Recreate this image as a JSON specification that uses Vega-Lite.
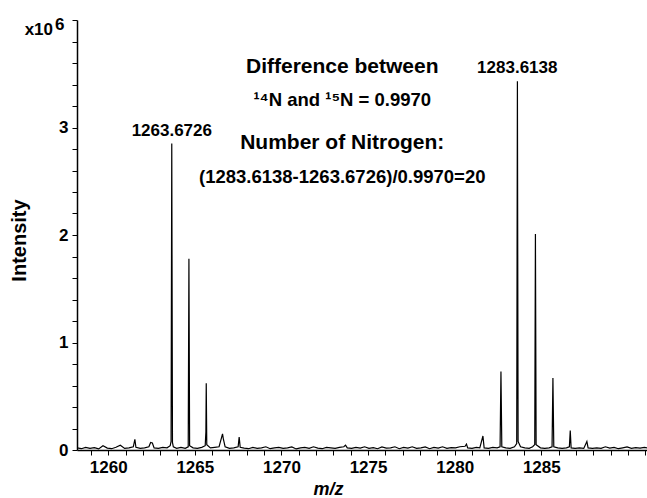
{
  "$schema": "https://vega.github.io/schema/vega-lite/v6.json",
  "width": 570,
  "height": 430,
  "autosize": {"type": "none"},
  "padding": {"left": 77, "top": 20, "right": 0, "bottom": 48},
  "background": "white",
  "config": {
    "font": "Liberation Sans",
    "view": {"stroke": null},
    "axis": {
      "grid": false,
      "domainColor": "black",
      "domainWidth": 1.5,
      "tickColor": "black",
      "tickWidth": 1,
      "tickSize": 5,
      "tickCount": 200,
      "labelColor": "black",
      "labelFont": "Liberation Sans",
      "labelFontWeight": "bold",
      "labelFontSize": 17,
      "labelOverlap": false,
      "labelFlush": false,
      "titleColor": "black",
      "titleFont": "Liberation Sans",
      "titleFontWeight": "bold"
    }
  },
  "datasets": {
    "spectrum": [
      {"mz": 1258.2, "intensity": 0.02}, {"mz": 1258.45, "intensity": 0.012}, {"mz": 1258.7, "intensity": 0.025}, {"mz": 1258.95, "intensity": 0.015},
      {"mz": 1259.2, "intensity": 0.022}, {"mz": 1259.45, "intensity": 0.01}, {"mz": 1259.7, "intensity": 0.04}, {"mz": 1259.95, "intensity": 0.018},
      {"mz": 1260.2, "intensity": 0.012}, {"mz": 1260.45, "intensity": 0.025}, {"mz": 1260.7, "intensity": 0.045}, {"mz": 1260.95, "intensity": 0.015},
      {"mz": 1261.2, "intensity": 0.02}, {"mz": 1261.45, "intensity": 0.03}, {"mz": 1261.54, "intensity": 0.1}, {"mz": 1261.6, "intensity": 0.025},
      {"mz": 1261.85, "intensity": 0.015}, {"mz": 1262.1, "intensity": 0.02}, {"mz": 1262.35, "intensity": 0.03}, {"mz": 1262.45, "intensity": 0.07},
      {"mz": 1262.55, "intensity": 0.065}, {"mz": 1262.65, "intensity": 0.02}, {"mz": 1262.9, "intensity": 0.015}, {"mz": 1263.15, "intensity": 0.025},
      {"mz": 1263.4, "intensity": 0.02}, {"mz": 1263.58, "intensity": 0.04}, {"mz": 1263.63, "intensity": 0.08}, {"mz": 1263.67, "intensity": 2.85},
      {"mz": 1263.71, "intensity": 0.07}, {"mz": 1263.76, "intensity": 0.03}, {"mz": 1263.95, "intensity": 0.015}, {"mz": 1264.2, "intensity": 0.025},
      {"mz": 1264.45, "intensity": 0.015}, {"mz": 1264.62, "intensity": 0.03}, {"mz": 1264.66, "intensity": 1.78}, {"mz": 1264.7, "intensity": 0.04},
      {"mz": 1264.9, "intensity": 0.02}, {"mz": 1265.15, "intensity": 0.015}, {"mz": 1265.4, "intensity": 0.025}, {"mz": 1265.6, "intensity": 0.04},
      {"mz": 1265.64, "intensity": 0.17}, {"mz": 1265.66, "intensity": 0.62}, {"mz": 1265.69, "intensity": 0.05}, {"mz": 1265.9, "intensity": 0.02},
      {"mz": 1266.15, "intensity": 0.025}, {"mz": 1266.4, "intensity": 0.03}, {"mz": 1266.55, "intensity": 0.12}, {"mz": 1266.6, "intensity": 0.15},
      {"mz": 1266.65, "intensity": 0.1}, {"mz": 1266.75, "intensity": 0.03}, {"mz": 1267.0, "intensity": 0.015}, {"mz": 1267.25, "intensity": 0.02},
      {"mz": 1267.5, "intensity": 0.03}, {"mz": 1267.56, "intensity": 0.12}, {"mz": 1267.62, "intensity": 0.025}, {"mz": 1267.85, "intensity": 0.018},
      {"mz": 1268.1, "intensity": 0.012}, {"mz": 1268.35, "intensity": 0.025}, {"mz": 1268.6, "intensity": 0.015}, {"mz": 1268.85, "intensity": 0.02},
      {"mz": 1269.1, "intensity": 0.03}, {"mz": 1269.35, "intensity": 0.012}, {"mz": 1269.6, "intensity": 0.02}, {"mz": 1269.85, "intensity": 0.025},
      {"mz": 1270.1, "intensity": 0.015}, {"mz": 1270.35, "intensity": 0.02}, {"mz": 1270.6, "intensity": 0.028}, {"mz": 1270.85, "intensity": 0.01},
      {"mz": 1271.1, "intensity": 0.02}, {"mz": 1271.35, "intensity": 0.025}, {"mz": 1271.6, "intensity": 0.015}, {"mz": 1271.85, "intensity": 0.03},
      {"mz": 1272.1, "intensity": 0.018}, {"mz": 1272.35, "intensity": 0.012}, {"mz": 1272.6, "intensity": 0.025}, {"mz": 1272.85, "intensity": 0.02},
      {"mz": 1273.1, "intensity": 0.015}, {"mz": 1273.35, "intensity": 0.025}, {"mz": 1273.6, "intensity": 0.03}, {"mz": 1273.7, "intensity": 0.045},
      {"mz": 1273.8, "intensity": 0.02}, {"mz": 1274.05, "intensity": 0.015}, {"mz": 1274.3, "intensity": 0.025}, {"mz": 1274.55, "intensity": 0.018},
      {"mz": 1274.8, "intensity": 0.03}, {"mz": 1275.05, "intensity": 0.015}, {"mz": 1275.3, "intensity": 0.022}, {"mz": 1275.55, "intensity": 0.012},
      {"mz": 1275.8, "intensity": 0.028}, {"mz": 1276.05, "intensity": 0.018}, {"mz": 1276.3, "intensity": 0.02}, {"mz": 1276.55, "intensity": 0.03},
      {"mz": 1276.8, "intensity": 0.012}, {"mz": 1277.05, "intensity": 0.025}, {"mz": 1277.3, "intensity": 0.018}, {"mz": 1277.55, "intensity": 0.03},
      {"mz": 1277.8, "intensity": 0.015}, {"mz": 1278.05, "intensity": 0.02}, {"mz": 1278.3, "intensity": 0.028}, {"mz": 1278.55, "intensity": 0.012},
      {"mz": 1278.8, "intensity": 0.025}, {"mz": 1279.05, "intensity": 0.018}, {"mz": 1279.3, "intensity": 0.03}, {"mz": 1279.55, "intensity": 0.015},
      {"mz": 1279.8, "intensity": 0.022}, {"mz": 1280.05, "intensity": 0.02}, {"mz": 1280.3, "intensity": 0.03}, {"mz": 1280.6, "intensity": 0.035},
      {"mz": 1280.68, "intensity": 0.055}, {"mz": 1280.75, "intensity": 0.02}, {"mz": 1281.0, "intensity": 0.015}, {"mz": 1281.25, "intensity": 0.025},
      {"mz": 1281.45, "intensity": 0.02}, {"mz": 1281.63, "intensity": 0.13}, {"mz": 1281.7, "intensity": 0.02}, {"mz": 1281.95, "intensity": 0.015},
      {"mz": 1282.2, "intensity": 0.025}, {"mz": 1282.45, "intensity": 0.02}, {"mz": 1282.62, "intensity": 0.03}, {"mz": 1282.67, "intensity": 0.73},
      {"mz": 1282.72, "intensity": 0.03}, {"mz": 1282.95, "intensity": 0.02}, {"mz": 1283.2, "intensity": 0.015}, {"mz": 1283.45, "intensity": 0.03},
      {"mz": 1283.58, "intensity": 0.06}, {"mz": 1283.62, "intensity": 3.43}, {"mz": 1283.66, "intensity": 0.08}, {"mz": 1283.8, "intensity": 0.03},
      {"mz": 1284.05, "intensity": 0.02}, {"mz": 1284.3, "intensity": 0.015}, {"mz": 1284.5, "intensity": 0.03}, {"mz": 1284.62, "intensity": 0.05},
      {"mz": 1284.66, "intensity": 2.01}, {"mz": 1284.7, "intensity": 0.05}, {"mz": 1284.95, "intensity": 0.02}, {"mz": 1285.2, "intensity": 0.015},
      {"mz": 1285.45, "intensity": 0.02}, {"mz": 1285.62, "intensity": 0.03}, {"mz": 1285.67, "intensity": 0.67}, {"mz": 1285.72, "intensity": 0.03},
      {"mz": 1285.95, "intensity": 0.02}, {"mz": 1286.2, "intensity": 0.015}, {"mz": 1286.45, "intensity": 0.02}, {"mz": 1286.62, "intensity": 0.03},
      {"mz": 1286.67, "intensity": 0.18}, {"mz": 1286.72, "intensity": 0.02}, {"mz": 1286.95, "intensity": 0.015}, {"mz": 1287.2, "intensity": 0.02},
      {"mz": 1287.45, "intensity": 0.015}, {"mz": 1287.63, "intensity": 0.08}, {"mz": 1287.7, "intensity": 0.02}, {"mz": 1287.95, "intensity": 0.015},
      {"mz": 1288.2, "intensity": 0.02}, {"mz": 1288.45, "intensity": 0.015}, {"mz": 1288.7, "intensity": 0.03}, {"mz": 1288.95, "intensity": 0.018},
      {"mz": 1289.2, "intensity": 0.025}, {"mz": 1289.45, "intensity": 0.012}, {"mz": 1289.7, "intensity": 0.02}, {"mz": 1289.95, "intensity": 0.028},
      {"mz": 1290.2, "intensity": 0.015}, {"mz": 1290.45, "intensity": 0.022}, {"mz": 1290.7, "intensity": 0.018}, {"mz": 1290.95, "intensity": 0.025},
      {"mz": 1291.1, "intensity": 0.02}
    ],
    "peaks": [
      {"mz": 1263.6726, "intensity": 2.85},
      {"mz": 1283.6138, "intensity": 3.43}
    ],
    "notes": [
      {"line": "Difference between", "kind": "head", "mz": 1273.51, "intensity": 3.507},
      {"line": "¹⁴N and ¹⁵N = 0.9970", "kind": "sub", "mz": 1273.51, "intensity": 3.2},
      {"line": "Number of Nitrogen:", "kind": "head", "mz": 1273.51, "intensity": 2.8},
      {"line": "(1283.6138-1263.6726)/0.9970=20", "kind": "calc", "mz": 1273.51, "intensity": 2.484}
    ],
    "scale": [
      {"mz": 1258.2, "intensity": 4}
    ]
  },
  "layer": [
    {
      "data": {"name": "spectrum"},
      "mark": {"type": "line", "color": "black", "strokeWidth": 1.2, "clip": true},
      "encoding": {
        "x": {
          "field": "mz", "type": "quantitative",
          "scale": {"domain": [1258.2, 1291.1], "nice": false, "zero": false},
          "axis": {
            "title": "m/z",
            "titleFontStyle": "italic",
            "titleFontSize": 18,
            "titleX": 251,
            "titleY": 44,
            "titleBaseline": "alphabetic",
            "values": [1259,1260,1261,1262,1263,1264,1265,1266,1267,1268,1269,1270,1271,1272,1273,1274,1275,1276,1277,1278,1279,1280,1281,1282,1283,1284,1285,1286,1287,1288,1289,1290,1291],
            "labelExpr": "(datum.value % 5 == 0 && datum.value < 1290) ? format(datum.value, 'd') : ''",
            "labelPadding": 4
          }
        },
        "y": {
          "field": "intensity", "type": "quantitative",
          "scale": {"domain": [0, 4], "nice": false},
          "axis": {
            "title": "Intensity",
            "titleFontSize": 20,
            "titleX": -58,
            "titleY": 220,
            "titleBaseline": "middle",
            "values": [0,0.2,0.4,0.6,0.8,1,1.2,1.4,1.6,1.8,2,2.2,2.4,2.6,2.8,3,3.2,3.4,3.6,3.8,4],
            "labelExpr": "(datum.value % 1 == 0 && datum.value < 4) ? format(datum.value, 'd') : ''",
            "labelPadding": 4
          }
        }
      }
    },
    {
      "data": {"name": "peaks"},
      "mark": {"type": "text", "fontSize": 17, "fontWeight": "bold", "color": "black", "dy": -8, "baseline": "alphabetic", "align": "center"},
      "encoding": {
        "x": {"field": "mz", "type": "quantitative"},
        "y": {"field": "intensity", "type": "quantitative"},
        "text": {"field": "mz", "type": "quantitative", "format": ".4f"}
      }
    },
    {
      "data": {"name": "notes"},
      "mark": {"type": "text", "fontWeight": "bold", "color": "black", "baseline": "alphabetic", "align": "center"},
      "encoding": {
        "x": {"field": "mz", "type": "quantitative"},
        "y": {"field": "intensity", "type": "quantitative"},
        "text": {"field": "line"},
        "size": {"condition": {"test": "datum.kind == 'head'", "value": 21}, "value": 18.5}
      }
    },
    {
      "data": {"name": "scale"},
      "mark": {"type": "text", "fontSize": 17, "fontWeight": "bold", "color": "black", "align": "right", "baseline": "alphabetic", "dx": -24, "dy": 15},
      "encoding": {
        "x": {"field": "mz", "type": "quantitative"},
        "y": {"field": "intensity", "type": "quantitative"},
        "text": {"value": "x10"}
      }
    },
    {
      "data": {"name": "scale"},
      "mark": {"type": "text", "fontSize": 17, "fontWeight": "bold", "color": "black", "align": "left", "baseline": "alphabetic", "dx": -22, "dy": 10},
      "encoding": {
        "x": {"field": "mz", "type": "quantitative"},
        "y": {"field": "intensity", "type": "quantitative"},
        "text": {"value": "6"}
      }
    }
  ]
}
